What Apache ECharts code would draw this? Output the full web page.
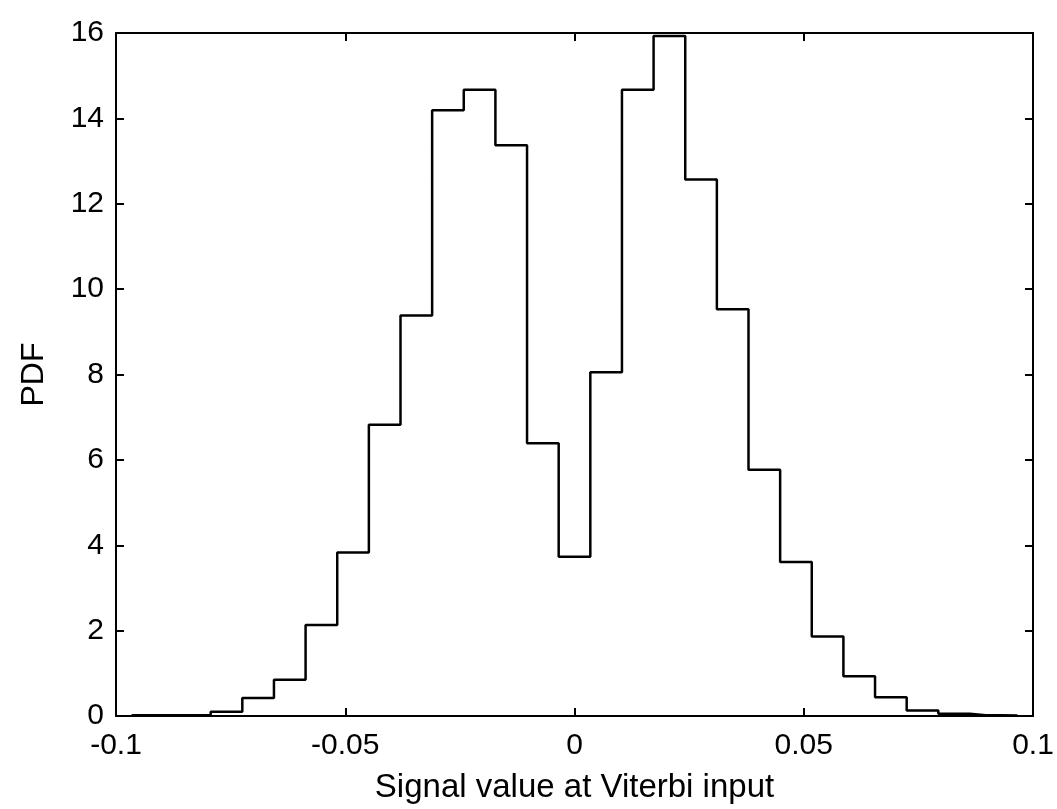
<!DOCTYPE html>
<html>
<head>
<meta charset="utf-8">
<title>PDF of signal value at Viterbi input</title>
<script src="https://cdn.jsdelivr.net/npm/echarts@6/dist/echarts.min.js"></script>
<style>
  html, body { margin: 0; padding: 0; background: #fff; }
  #chart { width: 1057px; height: 809px; }
</style>
</head>
<body>
<div id="chart"></div>
<script>
// histogram bin centres (29 bins over -0.1 .. 0.1)
const binCenters = [
  -0.0966, -0.0897, -0.0828, -0.0759, -0.0690, -0.0621, -0.0552, -0.0483,
  -0.0414, -0.0345, -0.0276, -0.0207, -0.0138, -0.0069, 0, 0.0069,
  0.0138, 0.0207, 0.0276, 0.0345, 0.0414, 0.0483, 0.0552, 0.0621,
  0.0690, 0.0759, 0.0828, 0.0897, 0.0966
];

// PDF value of each bin
const pdfValues = [
  0.02, 0.02, 0.02, 0.10, 0.42, 0.85, 2.13, 3.83,
  6.82, 9.38, 14.19, 14.67, 13.37, 6.39, 3.73, 8.05,
  14.67, 15.93, 12.57, 9.53, 5.77, 3.61, 1.86, 0.93,
  0.44, 0.13, 0.05, 0.02, 0.01
];

const xTicks = { min: -0.1, max: 0.1, interval: 0.05 };
const yTicks = { min: 0, max: 16, interval: 2 };

const chart = echarts.init(document.getElementById('chart'));

const font = 'Liberation Sans, Arial, sans-serif';
const frame = { show: true, onZero: false, lineStyle: { color: '#000', width: 2 } };
const innerTick = { show: true, inside: true, length: 8, lineStyle: { color: '#000', width: 2 } };

chart.setOption({
  animation: false,
  backgroundColor: '#fff',
  grid: { left: 116, right: 24, top: 33, bottom: 91 },
  xAxis: [
    {
      type: 'value',
      position: 'bottom',
      min: xTicks.min,
      max: xTicks.max,
      interval: xTicks.interval,
      axisLine: frame,
      axisTick: innerTick,
      splitLine: { show: false },
      axisLabel: { color: '#000', fontSize: 30, fontFamily: font, margin: 15 },
      name: 'Signal value at Viterbi input',
      nameLocation: 'middle',
      nameGap: 55,
      nameTextStyle: { color: '#000', fontSize: 33, fontFamily: font }
    },
    {
      type: 'value',
      position: 'top',
      min: xTicks.min,
      max: xTicks.max,
      interval: xTicks.interval,
      axisLine: frame,
      axisTick: innerTick,
      axisLabel: { show: false },
      splitLine: { show: false }
    }
  ],
  yAxis: [
    {
      type: 'value',
      position: 'left',
      min: yTicks.min,
      max: yTicks.max,
      interval: yTicks.interval,
      axisLine: frame,
      axisTick: innerTick,
      splitLine: { show: false },
      axisLabel: { color: '#000', fontSize: 30, fontFamily: font, margin: 12 },
      name: 'PDF',
      nameLocation: 'middle',
      nameGap: 66,
      nameRotate: 90,
      nameTextStyle: { color: '#000', fontSize: 32, fontFamily: font }
    },
    {
      type: 'value',
      position: 'right',
      min: yTicks.min,
      max: yTicks.max,
      interval: yTicks.interval,
      axisLine: frame,
      axisTick: innerTick,
      axisLabel: { show: false },
      splitLine: { show: false }
    }
  ],
  series: [
    {
      type: 'line',
      step: 'middle',
      xAxisIndex: 0,
      yAxisIndex: 0,
      data: binCenters.map((x, i) => [x, pdfValues[i]]),
      showSymbol: false,
      lineStyle: { color: '#000', width: 2.5 }
    }
  ]
});
</script>
</body>
</html>
